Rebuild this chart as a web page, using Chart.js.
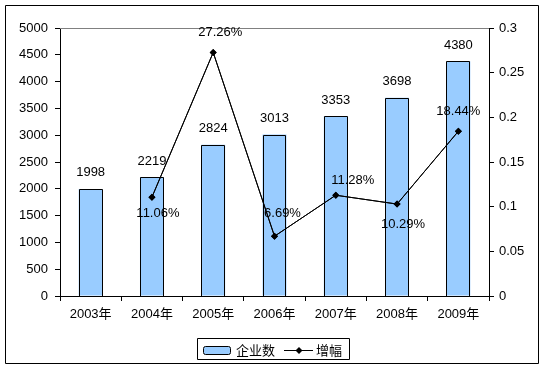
<!DOCTYPE html>
<html>
<head>
<meta charset="utf-8">
<script src="https://cdn.jsdelivr.net/npm/chart.js@4"></script>
<style>
  html, body { margin: 0; padding: 0; background: #fff; }
  #wrap { width: 545px; height: 370px; }
</style>
</head>
<body>
<div id="wrap"><canvas id="chart" width="545" height="370"></canvas></div>
<script>
// 数据
const years = ['2003年', '2004年', '2005年', '2006年', '2007年', '2008年', '2009年'];
const companyCounts = [1998, 2219, 2824, 3013, 3353, 3698, 4380];
const growthRates = [null, 0.1106, 0.2726, 0.0669, 0.1128, 0.1029, 0.1844];
const leftTicks = [0, 500, 1000, 1500, 2000, 2500, 3000, 3500, 4000, 4500, 5000];
const rightTicks = [0, 0.05, 0.1, 0.15, 0.2, 0.25, 0.3];

// 增幅标签的位置 (dx, dy 相对于数据点)
const rateLabelOffsets = [null, [6, 16], [7, -20], [8, -23], [17, -15], [6, 20], [0, -20]];

const numFont = "'Liberation Sans', Arial, sans-serif";
const cjkFont = "'Liberation Sans', 'Noto Sans CJK SC', sans-serif";
const barColor = '#99CCFF';

// 标签、边框和图例
const decorations = {
  id: 'decorations',
  beforeDraw(chart) {
    const ctx = chart.ctx;
    ctx.save();
    ctx.fillStyle = '#fff';
    ctx.fillRect(0, 0, chart.width, chart.height);
    ctx.restore();
  },
  afterDraw(chart) {
    const ctx = chart.ctx;
    const area = chart.chartArea;
    ctx.save();
    ctx.lineWidth = 1;
    ctx.setLineDash([]);

    // 柱子的黑色边框 (底边就是横轴)
    ctx.strokeStyle = '#000';
    chart.getDatasetMeta(0).data.forEach(function (bar) {
      const l = Math.round(bar.x - bar.width / 2) + 0.5;
      const r = Math.round(bar.x + bar.width / 2) - 0.5;
      const t = Math.round(bar.y) + 0.5;
      const b = Math.round(bar.base);
      ctx.beginPath();
      ctx.moveTo(l, b);
      ctx.lineTo(l, t);
      ctx.lineTo(r, t);
      ctx.lineTo(r, b);
      ctx.stroke();
    });

    // 折线重新画在柱子边框上面
    const pts = chart.getDatasetMeta(1).data.filter((p, i) => growthRates[i] !== null);
    ctx.beginPath();
    pts.forEach(function (p, i) {
      if (i === 0) ctx.moveTo(p.x, p.y); else ctx.lineTo(p.x, p.y);
    });
    ctx.stroke();
    ctx.fillStyle = '#000';
    pts.forEach(function (p) {
      ctx.beginPath();
      ctx.moveTo(p.x, p.y - 3.5);
      ctx.lineTo(p.x + 3.5, p.y);
      ctx.lineTo(p.x, p.y + 3.5);
      ctx.lineTo(p.x - 3.5, p.y);
      ctx.closePath();
      ctx.fill();
    });

    // 绘图区上边框
    ctx.strokeStyle = '#808080';
    ctx.beginPath();
    ctx.moveTo(area.left, Math.round(area.top) + 0.5);
    ctx.lineTo(area.right, Math.round(area.top) + 0.5);
    ctx.stroke();

    // 外框
    ctx.strokeStyle = '#000';
    ctx.beginPath();
    ctx.rect(5.5, 5.5, 533, 358);
    ctx.stroke();

    // 柱状标签
    ctx.fillStyle = '#000';
    ctx.font = '13px ' + numFont;
    ctx.textAlign = 'center';
    ctx.textBaseline = 'middle';
    chart.getDatasetMeta(0).data.forEach(function (bar, i) {
      ctx.fillText(String(companyCounts[i]), bar.x, bar.y - 16);
    });

    // 增幅标签
    chart.getDatasetMeta(1).data.forEach(function (pt, i) {
      if (growthRates[i] === null) return;
      const off = rateLabelOffsets[i];
      ctx.fillText((growthRates[i] * 100).toFixed(2) + '%', pt.x + off[0], pt.y + off[1]);
    });

    // 图例
    ctx.strokeStyle = '#000';
    ctx.beginPath();
    ctx.rect(197.5, 338.5, 152, 21);
    ctx.stroke();
    ctx.fillStyle = barColor;
    ctx.beginPath();
    ctx.roundRect(203.5, 346.5, 27, 8, 2);
    ctx.fill();
    ctx.stroke();
    ctx.beginPath();
    ctx.moveTo(284, 350.5);
    ctx.lineTo(313, 350.5);
    ctx.stroke();
    ctx.fillStyle = '#000';
    ctx.beginPath();
    ctx.moveTo(299, 347);
    ctx.lineTo(302.5, 350.5);
    ctx.lineTo(299, 354);
    ctx.lineTo(295.5, 350.5);
    ctx.closePath();
    ctx.fill();
    ctx.font = "13px 'Noto Sans CJK SC', sans-serif";
    ctx.textAlign = 'left';
    ctx.fillText('企业数', 236, 350);
    ctx.fillText('增幅', 316, 350);

    ctx.restore();
  }
};

const ctx = document.getElementById('chart').getContext('2d');
const chart = new Chart(ctx, {
  data: {
    labels: years,
    datasets: [
      {
        type: 'bar',
        label: '企业数',
        data: companyCounts,
        yAxisID: 'y',
        backgroundColor: barColor,
        borderWidth: 0,
        categoryPercentage: 1.0,
        barPercentage: 0.39,
        order: 2
      },
      {
        type: 'line',
        label: '增幅',
        data: growthRates,
        yAxisID: 'y1',
        borderColor: '#000',
        borderWidth: 1,
        backgroundColor: '#000',
        pointStyle: 'rectRot',
        pointRadius: 3.5,
        pointBorderWidth: 0,
        tension: 0,
        spanGaps: false,
        order: 1
      }
    ]
  },
  options: {
    responsive: false,
    animation: false,
    layout: { padding: { top: 28, bottom: 34, left: 0, right: 0 } },
    plugins: {
      legend: { display: false },
      tooltip: { enabled: false }
    },
    scales: {
      x: {
        offset: true,
        grid: { drawOnChartArea: false, drawTicks: true, tickLength: 5, color: '#000', offset: true },
        border: { color: '#000', width: 1 },
        ticks: { color: '#000', font: { family: cjkFont, size: 13 }, padding: 6, maxRotation: 0 },
        afterFit: function (scale) { scale.height = 40; }
      },
      y: {
        position: 'left',
        min: 0,
        max: 5000,
        afterBuildTicks: function (scale) { scale.ticks = leftTicks.map(v => ({ value: v })); },
        grid: { drawOnChartArea: false, drawTicks: true, tickLength: 5, color: '#000' },
        border: { color: '#000', width: 1 },
        ticks: {
          color: '#000',
          font: { family: numFont, size: 13 },
          padding: 7,
          callback: function (v) { return String(v); }
        },
        afterFit: function (scale) { scale.width = 60; }
      },
      y1: {
        position: 'right',
        min: 0,
        max: 0.3,
        afterBuildTicks: function (scale) { scale.ticks = rightTicks.map(v => ({ value: v })); },
        grid: { drawOnChartArea: false, drawTicks: true, tickLength: 5, color: '#000' },
        border: { color: '#000', width: 1 },
        ticks: {
          color: '#000',
          font: { family: numFont, size: 13 },
          padding: 5,
          callback: function (v) { return String(+v.toFixed(2)); }
        },
        afterFit: function (scale) { scale.width = 56; }
      }
    }
  },
  plugins: [decorations]
});
</script>
</body>
</html>
